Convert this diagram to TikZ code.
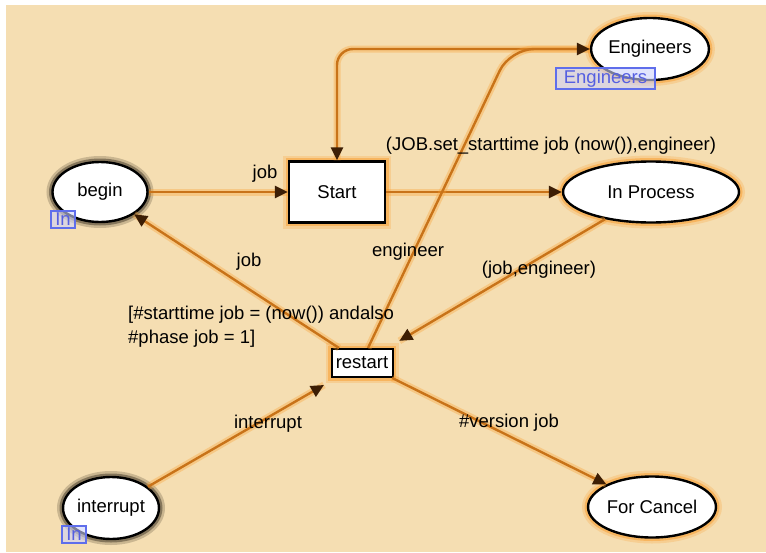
\documentclass[tikz,border=0pt]{standalone}
\usepackage{fontspec}
\setmainfont{Liberation Sans}
\usetikzlibrary{shapes.geometric,arrows.meta,calc}

\definecolor{bgcol}{RGB}{245,222,178}
\definecolor{arccol}{RGB}{200,115,25}
\definecolor{arcglow}{RGB}{250,160,50}
\definecolor{tipcol}{RGB}{60,30,5}
\definecolor{nodeglow}{RGB}{250,145,20}
\definecolor{darkglow}{RGB}{30,22,12}
\definecolor{portfill}{RGB}{205,210,250}
\definecolor{portline}{RGB}{95,110,235}
\definecolor{porttext}{RGB}{85,95,225}

\tikzset{
  every node/.style={font=\fontsize{18.5}{24}\selectfont},
  halo/.style={
    preaction={draw=#1,line width=12pt,opacity=0.2},
    preaction={draw=#1,line width=7pt,opacity=0.4}},
  place/.style={ellipse, draw=black, line width=2.4pt, fill=white, inner sep=0pt},
  trans/.style={rectangle, draw=black, line width=2.4pt, fill=white, inner sep=0pt, halo=nodeglow},
  port/.style={rectangle, draw=portline, line width=1.2pt, fill=portfill, fill opacity=0.6,
    text opacity=1, text=porttext, inner sep=0pt, minimum height=17pt},
  arc/.style={draw=arccol, line width=2.4pt,
    preaction={draw=arcglow, line width=7pt, opacity=0.35, arrows=-},
    -{Triangle[length=13pt,width=12pt,color=tipcol]}},
  lbl/.style={text=black, inner sep=0pt},
}

\begin{document}
\begin{tikzpicture}[x=1pt,y=-1pt]
  \useasboundingbox (0,0) rectangle (766,552);
  \fill[white] (0,0) rectangle (766,552);
  \fill[bgcol] (6,5) rectangle (766,552);

  % places and transitions
  \node[place, halo=darkglow, minimum width=95pt, minimum height=60pt] (begin) at (100,192) {begin};
  \node[trans, minimum width=96pt, minimum height=61pt] (start) at (337,192) {Start};
  \node[place, halo=nodeglow, minimum width=176pt, minimum height=61pt] (ip) at (651,192) {In Process};
  \node[place, halo=nodeglow, minimum width=114pt, minimum height=62pt] (eng) at (650,49) {Engineers};
  \node[trans, line width=2pt, minimum width=61pt, minimum height=28pt] (restart) at (362,363) {restart};
  \node[place, halo=darkglow, minimum width=93pt, minimum height=62pt] (intr) at (111,508) {interrupt};
  \node[place, halo=nodeglow, minimum width=120pt, minimum height=61pt] (fc) at (652,507) {For Cancel};

  % arcs
  \coordinate (engbend) at (510,49);
  \draw[arc] (begin.east) -- (start.west);
  \draw[arc] (start.east) -- (ip.west);
  \draw[arc, rounded corners=16pt] (eng.west) -| (start.north);
  \draw[arc, rounded corners=24pt] ([xshift=6pt]restart.north) -- (engbend) -- (eng.west);
  \draw[arc, shorten >=14pt] (ip) -- (restart);
  \draw[arc] (restart) -- (begin);
  \draw[arc, shorten >=14pt] (intr) -- (restart);
  \draw[arc] (restart) -- (fc);

  % port and fusion tags
  \node[port, minimum width=24pt] (beginport) at (63,219.5) {In};
  \node[port, minimum width=24pt] (intrport) at (74,534.5) {In};
  \node[port, minimum width=99pt, minimum height=21pt] (engport) at (605.5,78.5) {Engineers};

  % inscriptions
  \node[lbl] (ljob1) at (265,174) {job};
  \node[lbl] (lset) at (551,146) {(JOB.set\_starttime job (now()),engineer)};
  \node[lbl] (leng) at (408,252) {engineer};
  \node[lbl] (ljob2) at (249,262) {job};
  \node[lbl] (lpair) at (539,270) {(job,engineer)};
  \node[lbl] (lintr) at (268,424) {interrupt};
  \node[lbl] (lver) at (509,423) {\#version job};
  \node[lbl, anchor=west, align=left] (guard) at (128,327)
    {[\#starttime job = (now()) andalso\\\#phase job = 1]};
\end{tikzpicture}
\end{document}
